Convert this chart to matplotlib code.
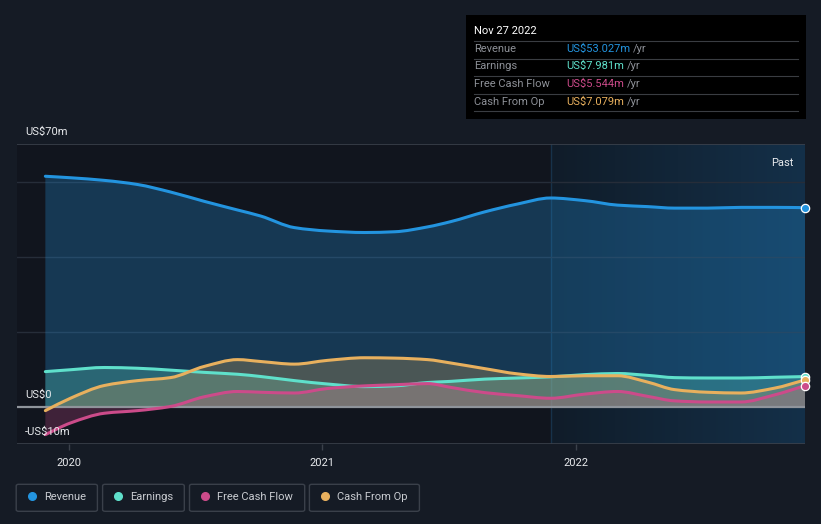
import numpy as np
import matplotlib
matplotlib.use("Agg")
import matplotlib.pyplot as plt
from matplotlib.path import Path
from matplotlib.patches import PathPatch, Rectangle, FancyBboxPatch
from matplotlib.colors import LinearSegmentedColormap

plt.rcParams['font.family'] = ['Roboto', 'DejaVu Sans']

# ---- data (decimal years, US$ millions) ----
dates = [2019.906, 2020.005, 2020.139, 2020.270, 2020.400, 2020.534, 2020.665,
         2020.756, 2020.890, 2021.020, 2021.167, 2021.286, 2021.416, 2021.507,
         2021.641, 2021.771, 2021.901, 2022.036, 2022.166, 2022.285, 2022.391,
         2022.521, 2022.652, 2022.786, 2022.906]
revenue = [61.4, 61.0, 60.3, 59.2, 57.2, 54.7, 52.4, 50.8, 47.7, 46.8, 46.4, 46.6,
           47.9, 49.3, 51.9, 54.0, 55.6, 54.9, 53.7, 53.3, 52.9, 52.9, 53.1, 53.1, 53.027]
earnings = [9.3, 9.8, 10.4, 10.2, 9.7, 9.1, 8.6, 8.0, 6.9, 6.0, 5.3, 5.5,
            6.4, 6.7, 7.3, 7.6, 7.9, 8.5, 8.8, 8.3, 7.7, 7.6, 7.6, 7.8, 7.981]
fcf = [-7.5, -4.4, -1.8, -1.1, 0.0, 2.6, 4.0, 3.8, 3.6, 4.8, 5.5, 5.8,
       6.1, 5.1, 3.7, 2.9, 2.2, 3.3, 4.0, 2.7, 1.5, 1.2, 1.2, 3.1, 5.544]
cfo = [-1.1, 2.2, 5.6, 6.9, 7.7, 10.7, 12.5, 12.0, 11.3, 12.3, 13.0, 12.9,
       12.5, 11.6, 10.1, 8.7, 8.0, 8.2, 8.2, 6.5, 4.5, 3.8, 3.6, 4.9, 7.079]

series_names = ["Revenue", "Earnings", "Free Cash Flow", "Cash From Op"]
series_values = [revenue, earnings, fcf, cfo]
series_colors = ["#2394df", "#5fe0cb", "#cc4b8a", "#e8b05e"]
tooltip_date = "Nov 27 2022"
tooltip_vals = ["US$53.027m", "US$7.981m", "US$5.544m", "US$7.079m"]
ytick_vals = [70, 0, -10]
ytick_labels = ["US$70m", "US$0", "-US$10m"]
xtick_vals = [2020, 2021, 2022]
xtick_labels = ["2020", "2021", "2022"]
past_start = 2021.903

BG = "#151b25"
W, H = 821, 524
FS = 8


def smooth_path(x, y, close_to_zero=False):
    x = np.asarray(x, float); y = np.asarray(y, float)
    n = len(x)
    h = np.diff(x); d = np.diff(y) / h
    m = np.zeros(n)
    m[0] = d[0]; m[-1] = d[-1]
    for i in range(1, n - 1):
        if d[i - 1] * d[i] <= 0:
            m[i] = 0.0
        else:
            w1 = 2 * h[i] + h[i - 1]; w2 = h[i] + 2 * h[i - 1]
            m[i] = (w1 + w2) / (w1 / d[i - 1] + w2 / d[i])
    verts = [(x[0], y[0])]; codes = [Path.MOVETO]
    for i in range(n - 1):
        verts += [(x[i] + h[i] / 3, y[i] + m[i] * h[i] / 3),
                  (x[i + 1] - h[i] / 3, y[i + 1] - m[i + 1] * h[i] / 3),
                  (x[i + 1], y[i + 1])]
        codes += [Path.CURVE4] * 3
    if close_to_zero:
        verts += [(x[-1], 0), (x[0], 0), (x[0], y[0])]
        codes += [Path.LINETO, Path.LINETO, Path.CLOSEPOLY]
    return Path(verts, codes)


fig = plt.figure(figsize=(W / 100, H / 100), dpi=100, facecolor=BG)
ax = fig.add_axes([17 / W, 1 - 444 / H, 788 / W, 300 / H])
ax.set_facecolor("#11151e")
x0, x1 = 2019.794, 2022.906
ax.set_xlim(x0, x1)
ax.set_ylim(-10, 70)

# past highlight gradient
grad = np.linspace(0, 1, 256).reshape(1, -1)
cmap = LinearSegmentedColormap.from_list("hl", ["#101c29", "#143049"])
ax.imshow(grad, extent=[past_start, x1, -10, 70], aspect="auto", cmap=cmap,
          zorder=0.5, interpolation="bilinear")
ax.axvline(past_start, color="#17324a", lw=1, zorder=0.6)

# grid
for gy in [20, 40, 60]:
    ax.axhline(gy, color="#262d39", lw=1, zorder=0.7)
ax.axhline(70, color="#3b414b", lw=1.2, zorder=0.7)
ax.axhline(-10, color="#3b414b", lw=1.2, zorder=0.7)

fill_alphas = [0.28, 0.28, 0.25, 0.25]
for vals, col, fa in zip(series_values, series_colors, fill_alphas):
    ax.add_patch(PathPatch(smooth_path(dates, vals, True), facecolor=col,
                           edgecolor="none", alpha=fa, zorder=1))

ax.axhline(0, color="#8f949b", lw=1.6, zorder=2)

for i in [0, 1, 2, 3]:
    ax.add_patch(PathPatch(smooth_path(dates, series_values[i]), facecolor="none",
                           edgecolor=series_colors[i], lw=2.2, zorder=3,
                           capstyle="round", joinstyle="round"))
for i in [0, 1, 3, 2]:
    ax.plot(dates[-1], series_values[i][-1], "o", ms=6, color=series_colors[i],
            mec="white", mew=0.9, zorder=4, clip_on=False)

ax.text(0.985, 0.955, "Past", transform=ax.transAxes, ha="right", va="top",
        color="#e8eaed", fontsize=FS)

for s in ax.spines.values():
    s.set_visible(False)
ax.set_yticks([])
ax.set_xticks(xtick_vals)
ax.set_xticklabels(xtick_labels)
ax.tick_params(axis="x", colors="#3b414b", length=4, width=1, labelcolor="#e8eaed",
               labelsize=FS, pad=6)

# y labels
ylab_y = {70: 132, 0: 395, -10: 432}
for v, lab in zip(ytick_vals, ytick_labels):
    fig.text(25 / W, 1 - ylab_y[v] / H, lab, color="#e8eaed", fontsize=FS,
             ha="left", va="center")

# tooltip
fig.patches.append(Rectangle((466 / W, 1 - 119 / H), 340 / W, 104 / H,
                             transform=fig.transFigure, facecolor="#000000",
                             edgecolor="none", zorder=5))
fig.text(474 / W, 1 - 30.7 / H, tooltip_date, color="#ffffff", fontsize=FS,
         ha="left", va="center", zorder=6)
for sy in [41.3, 59, 76.3, 93.7, 111.3]:
    fig.add_artist(plt.Line2D([474 / W, 798 / W], [1 - sy / H, 1 - sy / H],
                              transform=fig.transFigure, color="#3a3d42", lw=0.8,
                              zorder=6))
row_y = [49, 66.3, 84, 101.7]
fig.canvas.draw()
for name, val, col, ry in zip(series_names, tooltip_vals, series_colors, row_y):
    fig.text(474 / W, 1 - ry / H, name, color="#8d9097", fontsize=FS,
             ha="left", va="center", zorder=6)
    t = fig.text(566 / W, 1 - ry / H, val, color=col, fontsize=FS,
                 ha="left", va="center", zorder=6)
    bb = t.get_window_extent(renderer=fig.canvas.get_renderer())
    fig.text((bb.x1 + 3) / W, 1 - ry / H, "/yr", color="#8d9097", fontsize=FS,
             ha="left", va="center", zorder=6)

# legend
boxes = [(16.2, 97.4), (102.6, 184.3), (189.5, 304.7), (309.4, 419.4)]
for (bx0, bx1), name, col in zip(boxes, series_names, series_colors):
    fig.patches.append(FancyBboxPatch((bx0 / W, 1 - 511.3 / H), (bx1 - bx0) / W, 27 / H,
                                      boxstyle="round,pad=0,rounding_size=0.003",
                                      transform=fig.transFigure, facecolor="none",
                                      edgecolor="#3a404a", lw=1))
    fig.add_artist(plt.Line2D([(bx0 + 15.5) / W], [1 - 496 / H], marker="o", ms=5.5,
                              color=col, transform=fig.transFigure, lw=0))
    fig.text((bx0 + 27.5) / W, 1 - 496.5 / H, name, color="#c9ccd1", fontsize=FS,
             ha="left", va="center")

fig.savefig("out.png", dpi=100, facecolor=BG)
